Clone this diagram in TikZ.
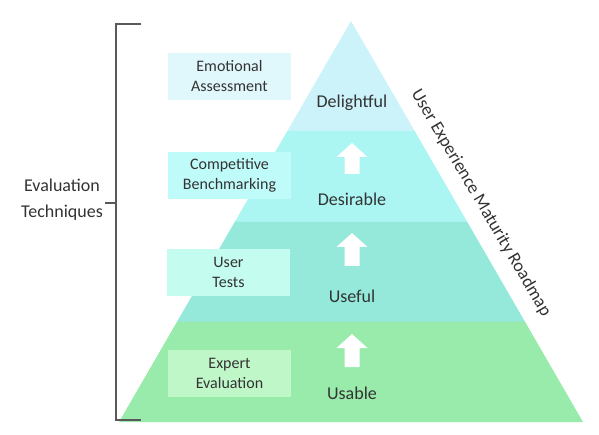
\documentclass[tikz,border=0pt]{standalone}
\usepackage{fontspec}
\setmainfont{Carlito}
\usetikzlibrary{calc}
\definecolor{bandA}{HTML}{CDF3FA}
\definecolor{bandB}{HTML}{ABF5F2}
\definecolor{bandC}{HTML}{95E9DA}
\definecolor{bandD}{HTML}{98EBAA}
\definecolor{boxA}{HTML}{E0F7FC}
\definecolor{boxB}{HTML}{BFFBF8}
\definecolor{boxC}{HTML}{C4FCEF}
\definecolor{boxD}{HTML}{C0F7C9}
\definecolor{txt}{HTML}{333333}
\definecolor{brk}{HTML}{595959}
\tikzset{
  techbox/.style={minimum width=123pt, minimum height=47pt, inner sep=0pt, align=center, font=\fontsize{16}{20}\selectfont, text=txt},
  levellabel/.style={font=\fontsize{18}{22}\selectfont, text=txt, inner sep=0pt},
  uparrow/.style={fill=white, draw=none},
  bracketline/.style={draw=brk, line width=1.2pt}
}
\begin{document}
\begin{tikzpicture}[x=1pt,y=-1pt]
\useasboundingbox (0,0) rectangle (599,435);
\coordinate (apex) at (351,21);
\coordinate (bl) at (119,422);
\coordinate (br) at (583,422);
\coordinate (l1) at ($(apex)!0.2743!(bl)$);
\coordinate (r1) at ($(apex)!0.2743!(br)$);
\coordinate (l2) at ($(apex)!0.5012!(bl)$);
\coordinate (r2) at ($(apex)!0.5012!(br)$);
\coordinate (l3) at ($(apex)!0.7506!(bl)$);
\coordinate (r3) at ($(apex)!0.7506!(br)$);
% bands
\fill[bandA] (apex) -- (l1) -- (r1) -- cycle;
\fill[bandB] (l1) -- (l2) -- (r2) -- (r1) -- cycle;
\fill[bandC] (l2) -- (l3) -- (r3) -- (r2) -- cycle;
\fill[bandD] (l3) -- (bl) -- (br) -- (r3) -- cycle;
% technique boxes
\node[techbox, fill=boxA] (emo) at (229.5,76.5) {Emotional\\Assessment};
\node[techbox, fill=boxB] (comp) at (229.5,175.5) {Competitive\\Benchmarking};
\node[techbox, fill=boxC] (user) at (228.5,272.5) {User\\Tests};
\node[techbox, fill=boxD] (expert) at (229.5,373.5) {Expert\\Evaluation};
% level labels
\node[levellabel] (delight) at (352,103) {Delightful};
\node[levellabel] (desir) at (352,199) {Desirable};
\node[levellabel] (useful) at (352,296) {Useful};
\node[levellabel] (usable) at (352,393) {Usable};
% arrows
\foreach \t/\b in {143/174, 233/266, 334/367}{
  \fill[uparrow] (352,\t) -- (367.5,\t+14) -- (359.5,\t+14) -- (359.5,\b) -- (344.5,\b) -- (344.5,\t+14) -- (336.5,\t+14) -- cycle;
}
% roadmap title
\node[levellabel, rotate=-59.6] (road) at (481,203) {User Experience Maturity Roadmap};
% bracket
\coordinate (btop) at (141,24);
\coordinate (btopc) at (116,24);
\coordinate (bbot) at (141,420);
\coordinate (bbotc) at (116,420);
\coordinate (bmid) at (116,203);
\coordinate (bmidl) at (105,203);
\draw[bracketline] (btop) -- (btopc) -- (bbotc) -- (bbot);
\draw[bracketline] (bmid) -- (bmidl);
\node[levellabel, align=center, font=\fontsize{18}{26}\selectfont] (evtech) at (62,200) {Evaluation\\Techniques};
\end{tikzpicture}
\end{document}
